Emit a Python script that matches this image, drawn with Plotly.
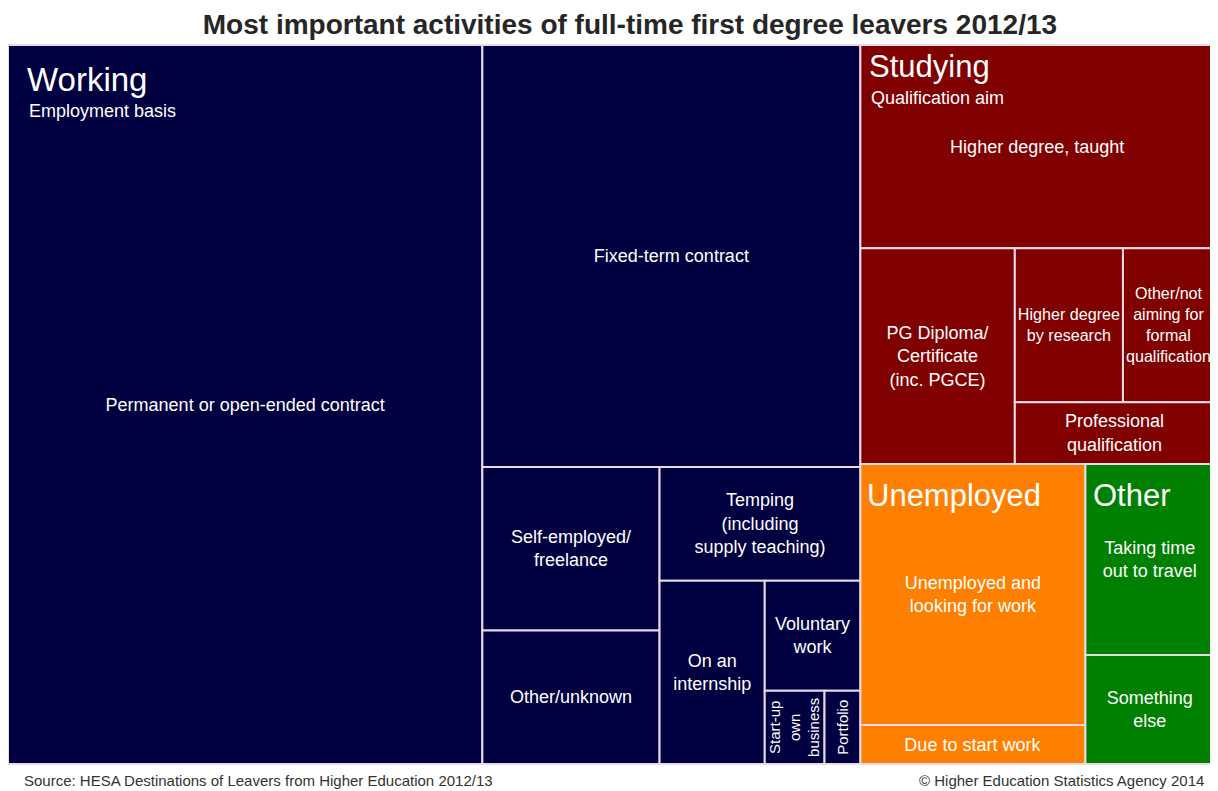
import plotly.graph_objects as go

# ---- data (percent of leavers) ----
groups = ["Working", "Studying", "Unemployed", "Other"]
group_subtitles = ["Employment basis", "Qualification aim", "", ""]
group_colors = ["#000040", "#800000", "#FF8000", "#008000"]

working_labels = ["Permanent or open-ended contract", "Fixed-term contract", "Self-employed/<br>freelance",
                  "Other/unknown", "Temping<br>(including<br>supply teaching)", "On an<br>internship",
                  "Voluntary<br>work", "Start-up<br>own<br>business", "Portfolio"]
working_values = [38.9, 18.2, 3.3, 2.7, 2.6, 2.2, 1.2, 0.5, 0.3]

studying_labels = ["Higher degree, taught", "PG Diploma/<br>Certificate<br>(inc. PGCE)", "Higher degree<br>by research",
                   "Other/not<br>aiming for<br>formal<br>qualification", "Professional<br>qualification"]
studying_values = [8.2, 3.8, 1.9, 1.6, 1.4]

unemployed_labels = ["Unemployed and<br>looking for work", "Due to start work"]
unemployed_values = [6.7, 1.0]

other_labels = ["Taking time<br>out to travel", "Something<br>else"]
other_values = [2.8, 1.6]

vertical_labels = ["Start-up<br>own<br>business", "Portfolio"]   # written upward in narrow tiles

title_text = "Most important activities of full-time first degree leavers 2012/13"
source_text = "Source: HESA Destinations of Leavers from Higher Education 2012/13"
copyright_text = "© Higher Education Statistics Agency 2014"

FONT = "Liberation Sans, Arial, sans-serif"
W, H = 1210, 783
M = dict(l=0, r=4, t=37, b=27)
PW, PH = W - M["l"] - M["r"], H - M["t"] - M["b"]

children = [working_labels, studying_labels, unemployed_labels, other_labels]
child_values = [working_values, studying_values, unemployed_values, other_values]


def squarify(vals, x0, y0, x1, y1, ratio=1.0):
    """Same squarified tiling as the treemap (d3-hierarchy), used to place header/rotated labels."""
    rects = [None] * len(vals)
    value = float(sum(vals))
    n = len(vals)
    i0 = i1 = 0
    while i0 < n:
        dx, dy = x1 - x0, y1 - y0
        s = vals[i1]
        i1 += 1
        mn = mx = s
        alpha = max(dy / dx, dx / dy) / (value * ratio)
        beta = s * s * alpha
        min_ratio = max(mx / beta, beta / mn)
        while i1 < n:
            nv = vals[i1]
            s += nv
            mn, mx = min(mn, nv), max(mx, nv)
            beta = s * s * alpha
            new_ratio = max(mx / beta, beta / mn)
            if new_ratio > min_ratio:
                s -= nv
                break
            min_ratio = new_ratio
            i1 += 1
        if dx < dy:
            yb = y0 + dy * s / value
            xs = x0
            for k in range(i0, i1):
                w = (x1 - x0) * vals[k] / s
                rects[k] = (xs, y0, xs + w, yb)
                xs += w
            y0 = yb
        else:
            xb = x0 + dx * s / value
            ys = y0
            for k in range(i0, i1):
                h = (y1 - y0) * vals[k] / s
                rects[k] = (x0, ys, xb, ys + h)
                ys += h
            x0 = xb
        value -= s
        i0 = i1
    return rects


# ---- build hierarchy ----
ids, labels, parents, values, colors, texts = [], [], [], [], [], []
ids.append("root"); labels.append(""); parents.append(""); values.append(0)
colors.append("#E8DAE8"); texts.append("")
for g, col, labs, vals in zip(groups, group_colors, children, child_values):
    ids.append(g); labels.append(g); parents.append("root"); values.append(0)
    colors.append(col); texts.append("")
    for lab, v in zip(labs, vals):
        ids.append(g + "/" + lab); labels.append(lab); parents.append(g); values.append(v)
        colors.append(col); texts.append("" if lab in vertical_labels else lab)

fig = go.Figure(go.Treemap(
    ids=ids, labels=labels, parents=parents, values=values,
    branchvalues="remainder",
    text=texts, textinfo="text",
    textposition="middle center",
    textfont=dict(family=FONT, size=18, color="white"),
    marker=dict(colors=colors, line=dict(width=2, color="#E8DAE8"),
                pad=dict(t=0, l=0, r=0, b=0)),
    tiling=dict(packing="squarify", squarifyratio=1, pad=0),
    pathbar=dict(visible=False),
    sort=True,
    hoverinfo="label+value",
))

# ---- label positions from the same tiling ----
group_rects = squarify([sum(v) for v in child_values], 0, 0, PW, PH)


def to_paper(px, py):
    return px / PW, 1 - py / PH


header_shift = [(17, -14), (7, -2), (5, -12), (6, -12)]
sub_shift = [(19, -54), (9, -41), (0, 0), (0, 0)]
header_size = [33, 31, 31, 31]

annotations = []
for gi, g in enumerate(groups):
    gx0, gy0, gx1, gy1 = group_rects[gi]
    x, y = to_paper(gx0, gy0)
    dx, dy = header_shift[gi]
    annotations.append(dict(text=g, x=x, y=y, xref="paper", yref="paper", xanchor="left", yanchor="top",
                            xshift=dx, yshift=dy, showarrow=False,
                            font=dict(family=FONT, size=header_size[gi], color="white")))
    if group_subtitles[gi]:
        sdx, sdy = sub_shift[gi]
        annotations.append(dict(text=group_subtitles[gi], x=x, y=y, xref="paper", yref="paper",
                                xanchor="left", yanchor="top", xshift=sdx, yshift=sdy, showarrow=False,
                                font=dict(family=FONT, size=18, color="white")))
    leaf_rects = squarify(child_values[gi], gx0, gy0, gx1, gy1)
    for lab, r in zip(children[gi], leaf_rects):
        if lab in vertical_labels:
            cx, cy = to_paper((r[0] + r[2]) / 2, (r[1] + r[3]) / 2)
            annotations.append(dict(text=lab, x=cx, y=cy, xref="paper", yref="paper", textangle=-90,
                                    xanchor="center", yanchor="middle", showarrow=False,
                                    font=dict(family=FONT, size=15, color="white")))

annotations.append(dict(text=source_text, x=0, y=0, xref="paper", yref="paper", xanchor="left", yanchor="top",
                        xshift=14, yshift=-6, showarrow=False,
                        font=dict(family=FONT, size=15, color="#333333")))
annotations.append(dict(text=copyright_text, x=1, y=0, xref="paper", yref="paper", xanchor="right", yanchor="top",
                        xshift=-8, yshift=-6, showarrow=False,
                        font=dict(family=FONT, size=15, color="#333333")))

fig.update_layout(
    width=W, height=H,
    margin=M,
    paper_bgcolor="white",
    title=dict(text="<b>" + title_text + "</b>", x=0.514, xanchor="center",
               yref="container", y=1 - 16 / H, yanchor="middle",
               font=dict(family=FONT, size=28, color="#262626")),
    annotations=annotations,
)

fig.write_html("out.html")
